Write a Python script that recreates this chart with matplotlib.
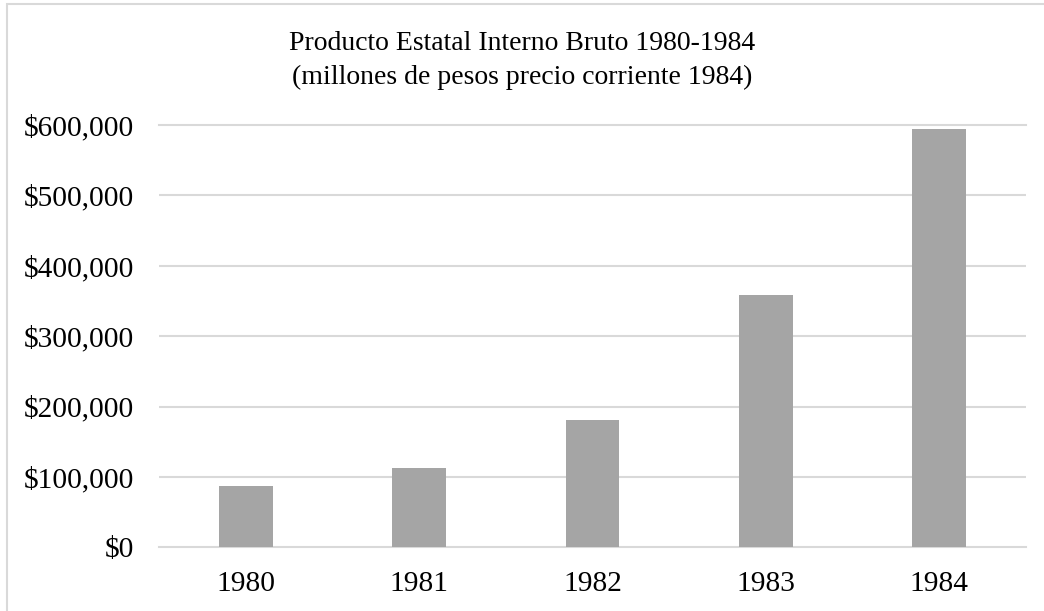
import matplotlib
matplotlib.use('Agg')
import matplotlib.pyplot as plt
from matplotlib.patches import Rectangle
from matplotlib.ticker import FuncFormatter

# Data
years = ['1980', '1981', '1982', '1983', '1984']
pib = [87000, 112000, 181000, 358000, 594000]
yticks = [0, 100000, 200000, 300000, 400000, 500000, 600000]

barColor = '#A5A5A5'
gridColor = '#D9D9D9'

plt.rcParams['font.family'] = ['Liberation Serif', 'DejaVu Serif']

fig = plt.figure(figsize=(10.44, 6.11), dpi=100)
ax = fig.add_axes([159/1044, 1 - 547.3/611, (1026 - 159)/1044, (547.3 - 125)/611])

x = range(len(years))
ax.bar(x, pib, width=0.31, color=barColor, zorder=2)
ax.set_xlim(-0.5, len(years) - 0.5)
ax.set_ylim(0, 600000)
ax.set_xticks(list(x))
ax.set_xticklabels(years)
ax.set_yticks(yticks)
ax.yaxis.set_major_formatter(FuncFormatter(lambda v, p: '${:,.0f}'.format(v)))
ax.tick_params(axis='both', length=0, labelsize=21.2, colors='black')
ax.tick_params(axis='y', pad=18)
ax.tick_params(axis='x', pad=17)
for s in ax.spines.values():
    s.set_visible(False)
ax.grid(axis='y', color=gridColor, linewidth=1.5, zorder=0)
ax.set_axisbelow(True)
ax.yaxis.get_gridlines()[-1].set_clip_on(False)
ax.yaxis.get_gridlines()[0].set_clip_on(False)

fig.text(522/1044, 1 - 44/611, 'Producto Estatal Interno Bruto 1980-1984',
         ha='center', va='center', fontsize=20)
fig.text(522/1044, 1 - 77/611, '(millones de pesos precio corriente 1984)',
         ha='center', va='center', fontsize=20)

# outer chart frame (only left and top visible in the crop)
fig.patches.append(Rectangle((7/1044, -0.05), 1.1, 1 - 4/611 + 0.05,
                             transform=fig.transFigure, fill=False,
                             edgecolor=gridColor, linewidth=1.5))

fig.savefig('out.png', dpi=100)
